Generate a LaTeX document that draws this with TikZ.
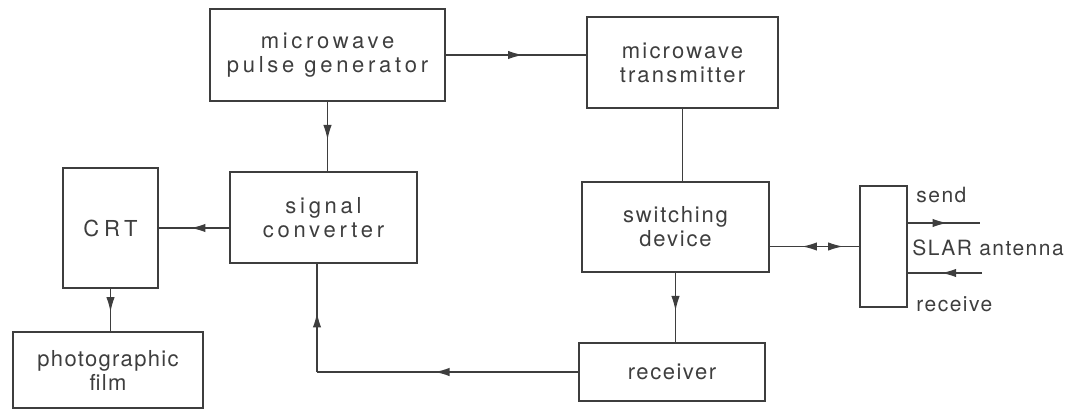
\documentclass[tikz,border=0pt]{standalone}
\usepackage{fontspec}
\setmainfont[LetterSpace=7]{TeX Gyre Heros}
\usepackage{tikz}
\usetikzlibrary{arrows.meta, calc}
\usetikzlibrary{decorations.markings}
\definecolor{cInk}{RGB}{62,62,62}

\tikzset{
    box/.style={draw=cInk, line width=0.8pt, align=center, inner sep=0pt, text=cInk},
    lbl/.style={text=cInk, inner sep=0pt, anchor=west, font=\fontsize{10.5}{12}\selectfont},
    wire/.style={draw=cInk, line width=0.7pt},
    midarrow/.style={postaction={decorate}, decoration={markings,
        mark=at position #1 with {\arrow{Latex[length=7.5pt,width=4.2pt]}}}},
    midarrow/.default=0.55,
}

\begin{document}
\begin{tikzpicture}[x=0.5pt, y=-0.5pt]

    \useasboundingbox (0,0) rectangle (1086,411);

    % --- Blocks ---
    % \x, \y, \w, \h, letter spacing, \name, \txt
    \foreach \x/\y/\w/\h/\ls/\name/\txt in {
        327.5/55/235/92/17/pulse/{microwave\\pulse generator},
        682.5/62.5/191/91/10/trans/{microwave\\transmitter},
        675.5/227/187/90/8/switch/{switching\\device},
        883.5/246.5/47/121/7/ant/{},
        672/372/186/58/7/recv/{receiver},
        110.5/228/95/120/22/crt/{CRT},
        323.5/217.5/187/91/17/conv/{signal\\converter},
        108/370/190/76/6/film/{photographic\\film}%
    } {
        \node[box, minimum width=0.5*\w pt, minimum height=0.5*\h pt,
            font=\fontsize{11}{12}\selectfont\addfontfeature{LetterSpace=\ls}] (\name) at (\x,\y) {\txt};
    }

    % --- Antenna labels ---
    \node[lbl] (send) at (916,195) {send};
    \node[lbl] (slar) at (912,248) {SLAR antenna};
    \node[lbl] (rcv) at (916,304) {receive};
    \coordinate (sendend) at (980,223);
    \coordinate (recvend) at (982,273);
    \coordinate (fb) at (317,372);

    % --- Connections ---
    \draw[wire, midarrow] (pulse.east) -- (pulse.east -| trans.west);       % pulse -> transmitter
    \draw[wire, midarrow] (pulse.south) -- (pulse.south |- conv.north);     % pulse -> converter
    \draw[wire] (trans.south) -- (trans.south |- switch.north);             % transmitter -- switch
    \draw[wire, postaction={decorate}, decoration={markings,
        mark=at position 0.36 with {\arrowreversed{Latex[length=7.5pt,width=4.2pt]}},
        mark=at position 0.82 with {\arrow{Latex[length=7.5pt,width=4.2pt]}}}]
        (switch.east |- ant.west) -- (ant.west);                            % switch <-> antenna
    \draw[wire, midarrow] (ant.east |- sendend) -- (sendend);               % send
    \draw[wire, midarrow] (recvend) -- (ant.east |- recvend);               % receive
    \draw[wire, midarrow] (switch.south) -- (switch.south |- recv.north);   % switch -> receiver
    \draw[wire, midarrow] (recv.west) -- (fb);                              % receiver -> converter
    \draw[wire, midarrow] (fb) -- (fb |- conv.south);
    \draw[wire, midarrow] (crt.east -| conv.west) -- (crt.east);            % converter -> CRT
    \draw[wire, midarrow] (crt.south) -- (crt.south |- film.north);         % CRT -> film

\end{tikzpicture}
\end{document}
